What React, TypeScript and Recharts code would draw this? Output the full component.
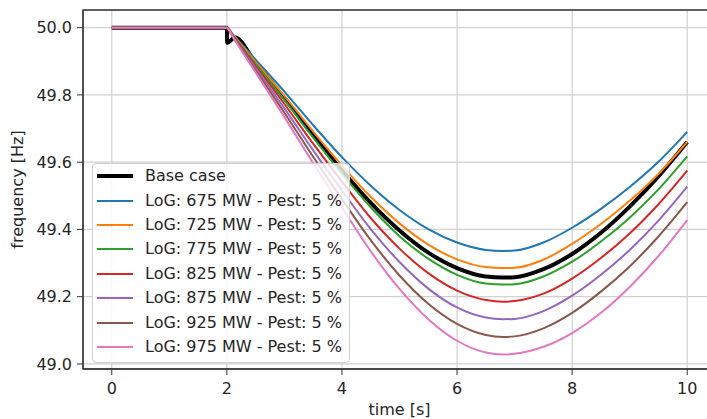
import { CartesianGrid, Legend, Line, LineChart, ReferenceArea, XAxis, YAxis } from 'recharts'

// time axis shared by the LoG runs
const TIME = [0, 1, 2, 2.1, 2.5, 3, 3.5, 4, 4.5, 5, 5.5, 6, 6.5, 6.8, 7, 7.5, 8, 8.5, 9, 9.5, 10]

// base case has its own sampling (small dip right at the event)
const BASE_TIME = [0, 1, 2, 2.005, 2.14, 2.5, 3, 3.5, 4, 4.5, 5, 5.5, 6, 6.5, 6.8, 7, 7.5, 8, 8.5, 9, 9.5, 10]
const BASE_CASE = [
  50, 50, 50, 49.955, 49.971, 49.895, 49.79, 49.681, 49.576, 49.479, 49.397, 49.331, 49.285, 49.26, 49.257, 49.258,
  49.282, 49.327, 49.39, 49.468, 49.558, 49.66,
]

const LOG_675 = [
  50, 50, 50, 49.981, 49.905, 49.81, 49.71, 49.615, 49.53, 49.458, 49.401, 49.361, 49.339, 49.336, 49.337, 49.361, 49.405,
  49.461, 49.526, 49.601, 49.69,
]
const LOG_725 = [
  50, 50, 50, 49.98, 49.898, 49.797, 49.691, 49.59, 49.497, 49.418, 49.355, 49.311, 49.288, 49.285, 49.286, 49.31, 49.357,
  49.416, 49.485, 49.565, 49.66,
]
const LOG_775 = [
  50, 50, 50, 49.978, 49.892, 49.785, 49.673, 49.566, 49.466, 49.38, 49.313, 49.265, 49.239, 49.236, 49.237, 49.26,
  49.304, 49.364, 49.435, 49.519, 49.617,
]
const LOG_825 = [
  50, 50, 50, 49.977, 49.886, 49.773, 49.655, 49.542, 49.434, 49.343, 49.27, 49.218, 49.19, 49.185, 49.187, 49.209,
  49.254, 49.315, 49.388, 49.475, 49.575,
]
const LOG_875 = [
  50, 50, 50, 49.975, 49.88, 49.76, 49.635, 49.516, 49.401, 49.303, 49.224, 49.168, 49.138, 49.133, 49.134, 49.157,
  49.203, 49.265, 49.339, 49.426, 49.527,
]
const LOG_925 = [
  50, 50, 50, 49.974, 49.873, 49.747, 49.616, 49.49, 49.368, 49.263, 49.179, 49.119, 49.086, 49.08, 49.082, 49.106,
  49.152, 49.215, 49.29, 49.379, 49.481,
]
const LOG_975 = [
  50, 50, 50, 49.973, 49.867, 49.734, 49.597, 49.465, 49.335, 49.223, 49.133, 49.069, 49.034, 49.028, 49.03, 49.051,
  49.092, 49.152, 49.229, 49.321, 49.428,
]

const X_TICKS = [0, 2, 4, 6, 8, 10]
const Y_TICKS = [49.0, 49.2, 49.4, 49.6, 49.8, 50.0]
const X_DOMAIN: [number, number] = [-0.5, 10.5]
const Y_DOMAIN: [number, number] = [48.985, 50.0525]

type Series = { key: string; label: string; color: string; width: number; time: number[]; values: number[] }

const SERIES: Series[] = [
  { key: 'base', label: 'Base case', color: '#000000', width: 4, time: BASE_TIME, values: BASE_CASE },
  { key: 'log675', label: 'LoG: 675 MW - Pest: 5 %', color: '#1f77b4', width: 2, time: TIME, values: LOG_675 },
  { key: 'log725', label: 'LoG: 725 MW - Pest: 5 %', color: '#ff7f0e', width: 2, time: TIME, values: LOG_725 },
  { key: 'log775', label: 'LoG: 775 MW - Pest: 5 %', color: '#2ca02c', width: 2, time: TIME, values: LOG_775 },
  { key: 'log825', label: 'LoG: 825 MW - Pest: 5 %', color: '#d62728', width: 2, time: TIME, values: LOG_825 },
  { key: 'log875', label: 'LoG: 875 MW - Pest: 5 %', color: '#9467bd', width: 2, time: TIME, values: LOG_875 },
  { key: 'log925', label: 'LoG: 925 MW - Pest: 5 %', color: '#8c564b', width: 2, time: TIME, values: LOG_925 },
  { key: 'log975', label: 'LoG: 975 MW - Pest: 5 %', color: '#e377c2', width: 2, time: TIME, values: LOG_975 },
]

type Row = { t: number; [key: string]: number | null }

function buildRows(seriesList: Series[]): Row[] {
  const rows = new Map<number, Row>()
  for (const s of seriesList) {
    s.time.forEach((t, i) => {
      const row = rows.get(t) ?? { t }
      row[s.key] = s.values[i]
      rows.set(t, row)
    })
  }
  return Array.from(rows.values()).sort((a, b) => a.t - b.t)
}

const TEXT = '#262626'
const SPINE = '#333333'

function LegendBox() {
  return (
    <div
      style={{
        border: '1px solid #d0d0d0',
        borderRadius: 4,
        background: 'rgba(255,255,255,0.8)',
        padding: '0 0 3px 4px',
        boxSizing: 'border-box',
      }}
    >
      {SERIES.map((s) => (
        <div key={s.key} style={{ display: 'flex', alignItems: 'center', height: 24.4 }}>
          <span style={{ display: 'inline-block', width: 36, height: s.width, background: s.color, marginRight: 12 }} />
          <span style={{ fontSize: 16, color: TEXT, whiteSpace: 'nowrap', lineHeight: '20px' }}>{s.label}</span>
        </div>
      ))}
    </div>
  )
}

function YLabel({ viewBox }: any) {
  const cy = viewBox.y + viewBox.height / 2
  const x = 23
  return (
    <text x={x} y={cy} transform={`rotate(-90, ${x}, ${cy})`} textAnchor="middle" fill={TEXT} fontSize={16}>
      frequency [Hz]
    </text>
  )
}

export default function App() {
  const rows = buildRows(SERIES)
  return (
    <div
      style={{
        position: 'absolute',
        left: 0,
        top: 0,
        width: 707,
        height: 419,
        overflow: 'hidden',
        background: '#fff',
        fontFamily: '"DejaVu Sans", sans-serif',
      }}
    >
      <LineChart width={720} height={419} data={rows} margin={{ top: 10, right: 4, bottom: 0, left: 0 }}>
        <CartesianGrid stroke="#d0d0d0" strokeWidth={1.2} />
        <XAxis
          dataKey="t"
          type="number"
          domain={X_DOMAIN}
          ticks={X_TICKS}
          allowDataOverflow
          height={50}
          tickSize={6}
          tickMargin={8}
          stroke={SPINE}
          tick={{ fill: TEXT, fontSize: 16 }}
          label={{ value: 'time [s]', position: 'insideBottom', offset: 4, fill: TEXT, fontSize: 16 }}
        />
        <YAxis
          type="number"
          domain={Y_DOMAIN}
          ticks={Y_TICKS}
          allowDataOverflow
          width={83}
          tickSize={6}
          tickMargin={5}
          stroke={SPINE}
          tick={{ fill: TEXT, fontSize: 16 }}
          tickFormatter={(v: number) => v.toFixed(1)}
          label={<YLabel />}
        />
        {SERIES.map((s) => (
          <Line
            key={s.key}
            type="monotone"
            dataKey={s.key}
            name={s.label}
            stroke={s.color}
            strokeWidth={s.width}
            dot={false}
            activeDot={false}
            connectNulls
            isAnimationActive={false}
          />
        ))}
        <ReferenceArea
          x1={X_DOMAIN[0]}
          x2={X_DOMAIN[1]}
          y1={Y_DOMAIN[0]}
          y2={Y_DOMAIN[1]}
          fill="none"
          stroke={SPINE}
          strokeWidth={1.3}
          ifOverflow="visible"
        />
        <Legend
          layout="horizontal"
          align="center"
          verticalAlign="middle"
          content={<LegendBox />}
          wrapperStyle={{ left: 92, top: 163, width: 258, height: 'auto' }}
        />
      </LineChart>
    </div>
  )
}
